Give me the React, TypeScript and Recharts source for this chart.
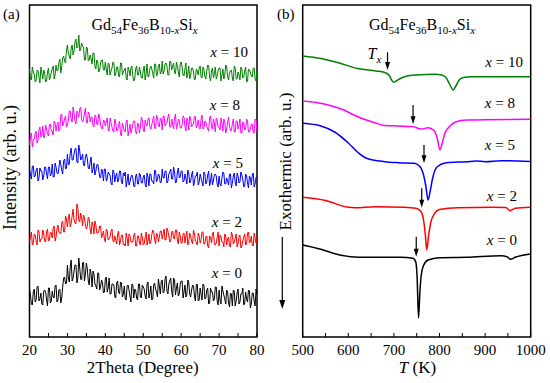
import React from "react";
import { LineChart, Line, XAxis, YAxis, ReferenceArea, ReferenceLine } from "recharts";

const serif = "'Liberation Serif', 'Times New Roman', serif";

// ---- (a) XRD patterns, 2theta scan from 20 to 80 deg in 0.25 deg steps ----
const thetaStart = 20;
const thetaStep = 0.25;
const xrdTicks = [20, 25, 30, 35, 40, 45, 50, 55, 60, 65, 70, 75, 80];

const xrdX10 = [
  268, 259, 257, 270, 265, 263, 255, 256, 267, 266, 260, 254, 270, 264, 258, 267, 264, 255, 256, 265,
  269, 257, 260, 265, 268, 271, 258, 262, 272, 266, 267, 274, 278, 264, 270, 279, 281, 276, 274, 287,
  292, 284, 281, 278, 289, 292, 282, 286, 295, 298, 289, 290, 302, 286, 288, 294, 291, 290, 277, 277,
  290, 289, 276, 277, 282, 278, 273, 284, 284, 271, 268, 277, 275, 265, 267, 274, 277, 277, 267, 267,
  275, 268, 262, 274, 273, 262, 266, 269, 275, 274, 261, 263, 270, 270, 261, 260, 274, 274, 262, 265,
  267, 269, 259, 257, 270, 267, 261, 269, 271, 261, 256, 258, 268, 271, 262, 262, 270, 265, 259, 259,
  267, 271, 257, 263, 273, 260, 261, 268, 271, 268, 264, 259, 273, 273, 261, 263, 271, 273, 263, 265,
  276, 263, 266, 273, 274, 271, 262, 262, 276, 275, 267, 271, 274, 265, 263, 275, 271, 265, 260, 273,
  275, 270, 262, 261, 268, 274, 259, 263, 271, 258, 262, 269, 269, 265, 257, 258, 268, 266, 262, 269,
  271, 260, 259, 270, 267, 261, 258, 266, 272, 271, 260, 256, 266, 269, 259, 263, 270, 258, 261, 267,
  269, 269, 256, 262, 268, 258, 262, 272, 270, 260, 257, 264, 266, 267, 259, 256, 271, 269, 258, 258,
  265, 262, 257, 270, 268, 259, 260, 266, 270, 255, 256, 268, 267, 265, 261, 260, 269, 269, 258, 256,
  266,
];
const xrdX8 = [
  192, 200, 204, 190, 197, 198, 204, 206, 194, 197, 207, 210, 200, 201, 211, 199, 201, 212, 208, 203,
  201, 212, 213, 206, 206, 202, 216, 214, 206, 212, 215, 206, 207, 222, 223, 211, 214, 218, 221, 210,
  212, 217, 226, 226, 217, 215, 230, 224, 216, 213, 226, 224, 220, 228, 230, 218, 215, 218, 224, 229,
  215, 214, 225, 223, 215, 220, 220, 211, 210, 222, 221, 213, 212, 223, 220, 212, 209, 208, 217, 216,
  211, 215, 219, 207, 206, 219, 214, 210, 206, 205, 218, 214, 206, 207, 212, 216, 203, 201, 214, 210,
  206, 205, 216, 217, 201, 207, 213, 204, 208, 213, 216, 216, 205, 203, 214, 213, 204, 210, 220, 217,
  208, 205, 217, 213, 211, 218, 219, 210, 208, 212, 217, 221, 209, 208, 222, 219, 212, 210, 219, 218,
  207, 221, 221, 211, 213, 214, 220, 223, 210, 210, 218, 213, 208, 219, 223, 208, 211, 218, 217, 209,
  209, 212, 221, 220, 211, 206, 219, 216, 207, 221, 218, 210, 212, 213, 221, 220, 209, 212, 217, 209,
  208, 218, 222, 208, 209, 216, 215, 211, 208, 206, 219, 221, 210, 208, 218, 214, 205, 219, 217, 210,
  210, 207, 219, 214, 206, 218, 215, 204, 208, 215, 220, 211, 206, 207, 213, 218, 205, 205, 216, 216,
  208, 212, 218, 204, 204, 215, 214, 207, 208, 218, 216, 205, 205, 208, 213, 213, 204, 204, 218, 217,
  206,
];
const xrdX5 = [
  168, 163, 158, 171, 171, 160, 161, 167, 169, 156, 159, 169, 166, 166, 157, 161, 170, 170, 163, 158,
  170, 170, 161, 163, 173, 160, 160, 174, 170, 164, 163, 169, 177, 173, 167, 163, 176, 178, 168, 169,
  183, 172, 173, 184, 189, 177, 177, 183, 188, 189, 175, 174, 192, 186, 177, 179, 183, 172, 171, 180,
  183, 178, 169, 168, 175, 180, 164, 168, 174, 162, 166, 172, 173, 167, 160, 159, 168, 166, 156, 168,
  168, 156, 158, 165, 163, 162, 154, 152, 167, 165, 155, 161, 164, 155, 157, 166, 166, 155, 153, 164,
  161, 165, 150, 156, 163, 152, 155, 160, 162, 159, 151, 150, 161, 163, 153, 153, 164, 162, 154, 154,
  160, 162, 153, 150, 164, 160, 151, 163, 163, 156, 156, 153, 167, 166, 155, 158, 163, 161, 154, 155,
  168, 159, 159, 166, 166, 154, 156, 163, 165, 168, 158, 158, 170, 165, 154, 155, 165, 169, 159, 160,
  166, 166, 155, 156, 163, 159, 153, 167, 164, 154, 156, 162, 166, 151, 155, 161, 161, 165, 152, 155,
  163, 159, 155, 151, 165, 163, 153, 155, 162, 166, 151, 156, 164, 152, 156, 162, 163, 161, 153, 150,
  161, 153, 151, 159, 165, 164, 153, 153, 159, 156, 152, 163, 163, 149, 154, 161, 164, 155, 151, 164,
  161, 154, 155, 165, 162, 158, 150, 151, 163, 161, 154, 149, 161, 159, 152, 162, 164, 150, 153, 160,
  160,
];
const xrdX2 = [
  95, 100, 105, 92, 94, 103, 102, 96, 92, 107, 105, 95, 98, 98, 107, 103, 96, 95, 105, 108,
  96, 97, 105, 104, 99, 109, 111, 96, 100, 108, 112, 105, 104, 103, 114, 116, 105, 105, 121, 118,
  110, 119, 123, 110, 114, 121, 128, 117, 114, 113, 133, 129, 117, 115, 124, 119, 111, 122, 119, 112,
  108, 111, 120, 118, 108, 103, 115, 112, 103, 116, 112, 104, 104, 105, 111, 111, 99, 102, 106, 98,
  95, 108, 106, 97, 98, 100, 106, 108, 96, 95, 101, 97, 93, 103, 106, 92, 96, 102, 102, 92,
  93, 91, 104, 99, 91, 103, 101, 95, 95, 95, 102, 104, 91, 91, 101, 101, 94, 92, 104, 100,
  92, 93, 100, 105, 92, 96, 103, 93, 95, 102, 107, 105, 98, 93, 104, 102, 95, 100, 106, 106,
  98, 103, 108, 97, 97, 109, 106, 101, 95, 96, 105, 106, 99, 98, 107, 107, 97, 93, 105, 101,
  94, 94, 103, 104, 94, 100, 106, 92, 95, 104, 101, 96, 93, 107, 103, 96, 95, 92, 104, 101,
  94, 97, 105, 105, 93, 93, 100, 101, 91, 89, 101, 99, 94, 103, 105, 93, 92, 94, 100, 105,
  91, 102, 101, 95, 95, 90, 103, 101, 92, 98, 100, 91, 90, 105, 102, 93, 95, 99, 103, 90,
  93, 100, 102, 89, 91, 96, 100, 103, 92, 93, 104, 105, 94, 95, 101, 92, 91, 104, 99, 94,
  100,
];
const xrdX0 = [
  48, 42, 33, 32, 45, 48, 35, 37, 50, 51, 36, 38, 44, 33, 32, 46, 47, 45, 37, 31,
  49, 49, 34, 36, 46, 40, 39, 51, 52, 35, 37, 47, 48, 34, 39, 50, 59, 60, 53, 54,
  72, 59, 55, 71, 77, 56, 59, 66, 72, 72, 54, 59, 79, 69, 58, 57, 74, 75, 56, 63,
  74, 68, 56, 52, 68, 63, 50, 66, 63, 53, 51, 48, 64, 64, 47, 51, 57, 54, 44, 45,
  58, 60, 45, 49, 59, 43, 43, 53, 53, 52, 40, 39, 54, 56, 45, 43, 55, 54, 40, 43,
  51, 38, 37, 51, 52, 47, 41, 35, 53, 52, 39, 48, 47, 39, 37, 53, 53, 40, 39, 52,
  50, 48, 41, 38, 53, 55, 39, 43, 51, 37, 38, 52, 54, 48, 45, 40, 58, 51, 43, 56,
  57, 44, 45, 58, 61, 46, 43, 53, 56, 59, 46, 40, 59, 57, 42, 49, 54, 41, 43, 53,
  56, 56, 39, 45, 52, 40, 42, 57, 55, 43, 40, 47, 52, 51, 41, 36, 52, 53, 36, 37,
  49, 43, 37, 53, 52, 38, 39, 47, 49, 33, 34, 49, 45, 45, 36, 38, 50, 50, 36, 32,
  47, 37, 33, 51, 46, 42, 38, 33, 47, 45, 34, 30, 44, 43, 31, 47, 46, 31, 36, 44,
  48, 33, 35, 43, 43, 49, 32, 34, 45, 38, 35, 47, 46, 29, 33, 44, 44, 36, 31, 48,
  43,
];

const xrdRows = xrdX10.map((_, i) => ({
  theta: thetaStart + i * thetaStep,
  x10: xrdX10[i],
  x8: xrdX8[i],
  x5: xrdX5[i],
  x2: xrdX2[i],
  x0: xrdX0[i],
}));

// ---- (b) DSC curves: [T (K), signal] ----
const dscTicks = [500, 550, 600, 650, 700, 750, 800, 850, 900, 950, 1000];

const dscX10: [number, number][] = [
  [500, 281], [540, 278.5], [580, 274], [620, 268.5], [660, 266], [680, 264.5],
  [690, 261.5], [695, 257], [700, 254.7], [705, 256], [712, 258], [725, 260.5],
  [750, 262], [790, 262.7], [805, 262], [815, 259], [822, 253], [830, 247],
  [836, 251], [843, 257], [852, 259.5], [870, 260.2], [1000, 260.3],
];
const dscX8: [number, number][] = [
  [500, 236], [530, 234.5], [560, 231.5], [590, 227], [610, 222.5], [630, 218.5],
  [655, 214.7], [680, 211.5], [710, 211], [740, 210.5], [760, 208], [775, 209.3],
  [788, 206.5], [795, 199], [801, 187], [806, 194], [812, 204], [820, 209.5],
  [835, 215], [860, 217], [1000, 217.7],
];
const dscX5: [number, number][] = [
  [500, 213.7], [540, 211], [570, 205], [600, 194], [620, 185], [640, 178.7],
  [680, 175.3], [710, 174.3], [745, 173.7], [758, 170], [765, 162], [770, 151],
  [775, 137], [780, 147], [785, 159], [795, 170.3], [815, 174.3], [860, 175.3],
  [880, 176], [900, 175.3], [935, 176.3], [1000, 175.5],
];
const dscX2: [number, number][] = [
  [500, 139.7], [550, 136.5], [600, 129.7], [615, 129.3], [660, 130.3], [720, 129.7],
  [748, 128.7], [760, 125], [765, 117], [769, 102], [772, 87], [776, 101],
  [781, 115], [790, 124], [800, 127.5], [840, 129.3], [915, 129.7], [945, 129.5],
  [955, 126.3], [966, 128.7], [1000, 129.7],
];
const dscX0: [number, number][] = [
  [500, 92], [540, 87.7], [575, 82.7], [605, 80.3], [640, 79.7], [715, 79.7],
  [742, 78.7], [748, 75], [751, 59], [754, 19], [757, 45], [760, 62],
  [765, 71.5], [775, 77], [800, 79.3], [860, 79.7], [935, 81.3], [948, 80.3],
  [956, 77.7], [966, 79.7], [1000, 83],
];

// Tx markers (temperature, arrow top, arrow tip)
const txTemps = [686, 742, 766, 761, 749];
const txTop = [284.7, 232, 192, 148.7, 100.3];
const txTip = [267, 212.7, 173.7, 129.3, 80.3];

const toPts = (arr: [number, number][]) => arr.map(([t, v]) => ({ t, v }));

const seriesColors = {
  x10: "#008000",
  x8: "#ff00ff",
  x5: "#0000ff",
  x2: "#ff0000",
  x0: "#000000",
};

const tickStyle = { fontFamily: serif, fontSize: 15, fill: "#000" };

function ArrowShape(props: any) {
  const { x1, y1, x2, y2 } = props;
  const head = 8;
  return (
    <g>
      <line x1={x1} y1={y1} x2={x2} y2={y2 - head + 1} stroke="#000" strokeWidth={1.2} />
      <polygon
        points={`${x2 - 2.5},${y2 - head} ${x2 + 2.5},${y2 - head} ${x2},${y2}`}
        fill="#000"
      />
    </g>
  );
}

function Formula({ x, y }: { x: number; y: number }) {
  return (
    <text x={x} y={y} textAnchor="middle" fontFamily={serif} fontSize={16} fill="#000">
      Gd<tspan fontSize={11} dy={4}>54</tspan>
      <tspan dy={-4}>Fe</tspan>
      <tspan fontSize={11} dy={4}>36</tspan>
      <tspan dy={-4}>B</tspan>
      <tspan fontSize={11} dy={4}>
        10-<tspan fontStyle="italic">x</tspan>
      </tspan>
      <tspan dy={-4}>Si</tspan>
      <tspan fontSize={11} dy={4} fontStyle="italic">x</tspan>
    </text>
  );
}

function XLabel({ x, y, n }: { x: number; y: number; n: string }) {
  return (
    <text x={x} y={y} textAnchor="end" fontFamily={serif} fontSize={15} fill="#000">
      <tspan fontStyle="italic">x</tspan>
      {" = " + n}
    </text>
  );
}

export default function App() {
  return (
    <div style={{ position: "absolute", left: 0, top: 0, width: 550, height: 383, background: "#fff" }}>
      <div style={{ position: "absolute", left: 0, top: 0 }}>
        <LineChart
          width={275}
          height={383}
          data={xrdRows}
          margin={{ top: 5, right: 18, left: 29.5, bottom: 0 }}
        >
          <XAxis
            dataKey="theta"
            type="number"
            domain={[20, 80]}
            ticks={xrdTicks}
            tickFormatter={(v) => (v % 10 === 0 ? String(v) : "")}
            axisLine={false}
            tickSize={-4}
            tickMargin={11}
            stroke="#000"
            tick={tickStyle}
            height={46}
            interval={0}
          />
          <YAxis hide domain={[0, 332]} />
          <Line dataKey="x0" stroke={seriesColors.x0} strokeWidth={1} dot={false} type="linear" isAnimationActive={false} />
          <Line dataKey="x2" stroke={seriesColors.x2} strokeWidth={1} dot={false} type="linear" isAnimationActive={false} />
          <Line dataKey="x5" stroke={seriesColors.x5} strokeWidth={1} dot={false} type="linear" isAnimationActive={false} />
          <Line dataKey="x8" stroke={seriesColors.x8} strokeWidth={1} dot={false} type="linear" isAnimationActive={false} />
          <Line dataKey="x10" stroke={seriesColors.x10} strokeWidth={1} dot={false} type="linear" isAnimationActive={false} />
          <ReferenceArea x1={20} x2={80} y1={0} y2={332} fill="none" stroke="#000" strokeWidth={1.5} />
        </LineChart>
      </div>

      <div style={{ position: "absolute", left: 275, top: 0 }}>
        <LineChart width={275} height={383} margin={{ top: 5, right: 19.3, left: 27.7, bottom: 0 }}>
          <XAxis
            dataKey="t"
            type="number"
            domain={[500, 1000]}
            ticks={dscTicks}
            tickFormatter={(v) => (v % 100 === 0 ? String(v) : "")}
            axisLine={false}
            tickSize={-4}
            tickMargin={11}
            stroke="#000"
            tick={tickStyle}
            height={46}
            interval={0}
            allowDataOverflow
          />
          <YAxis hide domain={[0, 332]} />
          <Line data={toPts(dscX0)} dataKey="v" stroke={seriesColors.x0} strokeWidth={1.5} dot={false} type="monotone" isAnimationActive={false} />
          <Line data={toPts(dscX2)} dataKey="v" stroke={seriesColors.x2} strokeWidth={1.5} dot={false} type="monotone" isAnimationActive={false} />
          <Line data={toPts(dscX5)} dataKey="v" stroke={seriesColors.x5} strokeWidth={1.5} dot={false} type="monotone" isAnimationActive={false} />
          <Line data={toPts(dscX8)} dataKey="v" stroke={seriesColors.x8} strokeWidth={1.5} dot={false} type="monotone" isAnimationActive={false} />
          <Line data={toPts(dscX10)} dataKey="v" stroke={seriesColors.x10} strokeWidth={1.5} dot={false} type="monotone" isAnimationActive={false} />
          {txTemps.map((t, i) => (
            <ReferenceLine
              key={i}
              segment={[
                { x: t, y: txTop[i] },
                { x: t, y: txTip[i] },
              ]}
              shape={ArrowShape}
            />
          ))}
          <ReferenceArea x1={500} x2={1000} y1={0} y2={332} fill="none" stroke="#000" strokeWidth={1.5} />
        </LineChart>
      </div>

      <svg
        width={550}
        height={383}
        style={{ position: "absolute", left: 0, top: 0, pointerEvents: "none" }}
      >
        <text x={3} y={19} fontFamily={serif} fontSize={15} fill="#000">(a)</text>
        <text x={277} y={19} fontFamily={serif} fontSize={15} fill="#000">(b)</text>
        <Formula x={144.5} y={30} />
        <Formula x={422} y={30} />

        <XLabel x={248} y={57} n="10" />
        <XLabel x={240} y={110} n="8" />
        <XLabel x={243} y={168} n="5" />
        <XLabel x={242} y={227} n="2" />
        <XLabel x={242} y={278} n="0" />

        <XLabel x={523} y={67} n="10" />
        <XLabel x={515} y={108} n="8" />
        <XLabel x={515} y={150} n="5" />
        <XLabel x={517} y={201} n="2" />
        <XLabel x={517} y={245} n="0" />

        <text x={367.5} y={59} fontFamily={serif} fontSize={16} fontStyle="italic" fill="#000">
          T<tspan fontSize={11} dy={4}>x</tspan>
        </text>

        <text x={142.7} y={373} textAnchor="middle" fontFamily={serif} fontSize={17} fill="#000">
          2Theta (Degree)
        </text>
        <text x={417.5} y={373} textAnchor="middle" fontFamily={serif} fontSize={17} fill="#000">
          <tspan fontStyle="italic">T</tspan>
          {" (K)"}
        </text>

        <text
          transform="translate(16,167.5) rotate(-90)"
          textAnchor="middle"
          fontFamily={serif}
          fontSize={18}
          fill="#000"
        >
          Intensity (arb. u.)
        </text>
        <text
          transform="translate(291,161.5) rotate(-90)"
          textAnchor="middle"
          fontFamily={serif}
          fontSize={17}
          fill="#000"
        >
          Exothermic (arb. u.)
        </text>
        <line x1={282.3} y1={237} x2={282.3} y2={301} stroke="#000" strokeWidth={1.2} />
        <polygon points="279.3,300 285.3,300 282.3,309" fill="#000" />
      </svg>
    </div>
  );
}
